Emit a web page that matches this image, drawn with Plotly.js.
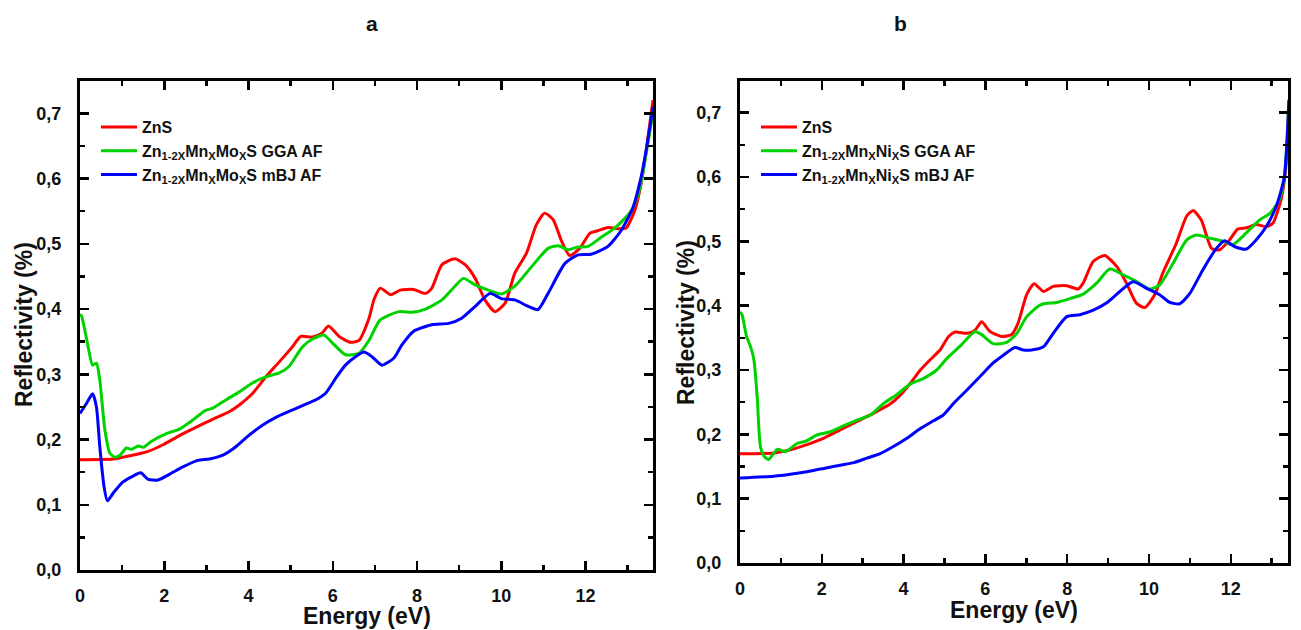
<!DOCTYPE html>
<html>
<head>
<meta charset="utf-8">
<script src="https://cdn.plot.ly/plotly-3.0.1.min.js"></script>
<style>html,body{margin:0;padding:0;background:#fff;}#chart{width:1301px;height:630px;}</style>
</head>
<body>
<div id="chart"></div>
<script>
// ---------- Panel a ----------
const aZnsE = [0,0.79,1.18,1.58,1.97,2.36,2.76,3.15,3.55,3.78,4.10,4.41,4.73,5.04,5.24,5.52,5.74,5.90,6.15,6.42,6.62,6.86,6.98,7.13,7.37,7.60,7.92,8.20,8.35,8.59,8.90,9.14,9.38,9.61,9.85,10.09,10.32,10.60,10.83,11.03,11.23,11.43,11.62,11.86,12.10,12.29,12.53,12.81,12.96,13.16,13.32,13.44,13.6];
const aZnsR = [0.169,0.170,0.175,0.181,0.192,0.206,0.219,0.231,0.243,0.253,0.271,0.296,0.319,0.342,0.358,0.357,0.363,0.374,0.358,0.349,0.352,0.386,0.415,0.432,0.422,0.429,0.430,0.424,0.432,0.468,0.477,0.468,0.447,0.414,0.396,0.409,0.455,0.486,0.529,0.547,0.537,0.504,0.482,0.493,0.516,0.520,0.525,0.523,0.524,0.550,0.593,0.644,0.72];

const aGgaE = [0,0.04,0.16,0.30,0.39,0.47,0.59,0.71,0.83,0.95,1.10,1.22,1.38,1.51,1.69,2.05,2.36,2.68,2.96,3.15,3.47,3.78,4.10,4.41,4.73,4.96,5.28,5.52,5.79,5.99,6.30,6.62,6.86,7.12,7.57,7.88,8.20,8.59,8.90,9.10,9.38,9.69,10.0,10.32,10.72,11.11,11.35,11.58,11.82,12.06,12.37,12.69,13.08,13.28,13.40,13.6];
const aGgaR = [0.392,0.389,0.353,0.314,0.317,0.291,0.215,0.179,0.173,0.176,0.187,0.185,0.190,0.188,0.197,0.209,0.216,0.230,0.244,0.248,0.261,0.273,0.287,0.296,0.302,0.312,0.342,0.354,0.360,0.348,0.330,0.332,0.352,0.383,0.396,0.395,0.400,0.414,0.435,0.447,0.437,0.429,0.423,0.435,0.465,0.493,0.497,0.491,0.495,0.496,0.510,0.524,0.550,0.583,0.624,0.70];

const aMbjE = [0,0.16,0.30,0.39,0.47,0.57,0.65,0.79,1.02,1.26,1.44,1.62,1.85,2.13,2.44,2.80,3.07,3.39,3.70,4.02,4.33,4.65,4.96,5.28,5.60,5.83,6.07,6.30,6.54,6.74,6.93,7.17,7.45,7.64,7.92,8.35,8.75,9.06,9.38,9.73,10.0,10.32,10.64,10.87,11.11,11.51,11.82,12.13,12.53,12.84,13.12,13.32,13.44,13.6];
const aMbjR = [0.240,0.256,0.270,0.250,0.189,0.128,0.106,0.118,0.135,0.144,0.149,0.139,0.138,0.147,0.158,0.168,0.170,0.176,0.189,0.207,0.222,0.234,0.243,0.252,0.261,0.271,0.294,0.314,0.327,0.334,0.327,0.314,0.325,0.345,0.366,0.376,0.378,0.386,0.404,0.424,0.416,0.414,0.404,0.399,0.424,0.470,0.483,0.484,0.496,0.520,0.555,0.603,0.644,0.71];

// ---------- Panel b ----------
const bZnsE = [0,0.83,1.23,1.64,2.05,2.45,2.86,3.27,3.67,3.92,4.16,4.41,4.65,4.89,5.10,5.26,5.55,5.75,5.91,6.11,6.40,6.64,6.80,7.01,7.19,7.42,7.66,7.99,8.27,8.39,8.64,8.92,9.21,9.45,9.69,9.90,10.14,10.34,10.67,10.92,11.08,11.28,11.53,11.73,11.97,12.17,12.38,12.62,12.87,13.03,13.23,13.34,13.42];
const bZnsR = [0.170,0.171,0.176,0.184,0.194,0.207,0.220,0.233,0.247,0.261,0.279,0.300,0.316,0.331,0.352,0.359,0.357,0.362,0.375,0.360,0.352,0.355,0.373,0.417,0.434,0.422,0.430,0.431,0.426,0.435,0.469,0.478,0.461,0.435,0.404,0.397,0.417,0.451,0.497,0.539,0.548,0.533,0.489,0.487,0.502,0.519,0.521,0.526,0.523,0.528,0.565,0.61,0.70];

const bGgaE = [0,0.05,0.16,0.26,0.34,0.42,0.50,0.60,0.70,0.83,0.92,1.11,1.40,1.60,1.88,2.21,2.53,2.86,3.19,3.51,3.84,4.16,4.49,4.81,5.06,5.38,5.75,5.91,6.19,6.52,6.77,7.01,7.29,7.42,7.74,8.07,8.39,8.72,9.04,9.37,9.69,10.02,10.26,10.59,10.92,11.16,11.48,11.81,12.05,12.38,12.70,12.95,13.19,13.31,13.42];
const bGgaR = [0.390,0.386,0.352,0.336,0.316,0.259,0.181,0.165,0.161,0.171,0.177,0.173,0.186,0.189,0.199,0.204,0.213,0.222,0.230,0.248,0.262,0.278,0.287,0.300,0.318,0.337,0.360,0.355,0.341,0.343,0.357,0.383,0.399,0.403,0.405,0.411,0.418,0.435,0.457,0.448,0.438,0.426,0.432,0.466,0.502,0.510,0.505,0.500,0.495,0.513,0.533,0.543,0.565,0.600,0.71];

const bMbjE = [0,0.83,1.23,1.64,2.05,2.45,2.78,3.10,3.43,3.75,4.08,4.41,4.73,4.97,5.22,5.55,5.87,6.19,6.44,6.72,6.93,7.13,7.42,7.66,7.99,8.31,8.64,8.96,9.29,9.61,9.94,10.26,10.51,10.75,11.0,11.32,11.65,11.85,12.09,12.38,12.62,12.87,13.11,13.31,13.42];
const bMbjR = [0.132,0.135,0.138,0.142,0.147,0.152,0.156,0.163,0.170,0.181,0.194,0.209,0.221,0.230,0.248,0.269,0.290,0.311,0.323,0.335,0.331,0.331,0.336,0.357,0.383,0.386,0.393,0.404,0.422,0.437,0.427,0.417,0.405,0.403,0.419,0.456,0.489,0.501,0.492,0.488,0.502,0.523,0.554,0.600,0.72];

const xTickVals = [0,2,4,6,8,10,12];
const yTickVals = [0,0.1,0.2,0.3,0.4,0.5,0.6,0.7];
const panelTitles = ['a','b'];
const namesA = ['ZnS','Zn<sub>1-2X</sub>Mn<sub>X</sub>Mo<sub>X</sub>S GGA AF','Zn<sub>1-2X</sub>Mn<sub>X</sub>Mo<sub>X</sub>S mBJ AF'];
const namesB = ['ZnS','Zn<sub>1-2X</sub>Mn<sub>X</sub>Ni<sub>X</sub>S GGA AF','Zn<sub>1-2X</sub>Mn<sub>X</sub>Ni<sub>X</sub>S mBJ AF'];
const colors = ['rgb(255,0,0)','rgb(0,210,0)','rgb(0,0,255)'];

const W = 1301, H = 630;
const FONT = 'Liberation Sans, Arial, sans-serif';
const px = v => v / W;
const py = v => 1 - v / H;

function tr(x, y, name, color, xa, ya, leg) {
  return {x: x, y: y, name: name, type: 'scatter', mode: 'lines',
    line: {color: color, width: 3, shape: 'spline', smoothing: 0.6},
    xaxis: xa, yaxis: ya, legend: leg};
}

const data = [
  tr(aZnsE, aZnsR, namesA[0], colors[0], 'x', 'y', 'legend'),
  tr(aGgaE, aGgaR, namesA[1], colors[1], 'x', 'y', 'legend'),
  tr(aMbjE, aMbjR, namesA[2], colors[2], 'x', 'y', 'legend'),
  tr(bZnsE, bZnsR, namesB[0], colors[0], 'x2', 'y2', 'legend2'),
  tr(bGgaE, bGgaR, namesB[1], colors[1], 'x2', 'y2', 'legend2'),
  tr(bMbjE, bMbjR, namesB[2], colors[2], 'x2', 'y2', 'legend2')
];

function xAxis(domain, range, anchor) {
  return {domain: domain, range: range, anchor: anchor, tickvals: xTickVals,
    ticks: 'inside', ticklen: 9, tickwidth: 2.5, tickcolor: '#000',
    minor: {dtick: 1, tick0: 0, ticks: 'inside', ticklen: 5, tickwidth: 2.5, tickcolor: '#000', showgrid: false},
    showline: true, linecolor: '#000', linewidth: 3, mirror: 'ticks', showgrid: false, zeroline: false,
    ticklabelstandoff: 7,
    tickfont: {family: FONT, size: 18, color: '#111', weight: 'bold'}, fixedrange: true};
}
function yAxis(domain, anchor) {
  return {domain: domain, range: [0, 0.75], anchor: anchor, tickvals: yTickVals, tickformat: '.1f',
    ticks: 'inside', ticklen: 9, tickwidth: 2.5, tickcolor: '#000',
    minor: {dtick: 0.05, tick0: 0, ticks: 'inside', ticklen: 5, tickwidth: 2.5, tickcolor: '#000', showgrid: false},
    showline: true, linecolor: '#000', linewidth: 3, mirror: 'ticks', showgrid: false, zeroline: false,
    ticklabelstandoff: 12,
    tickfont: {family: FONT, size: 18, color: '#111', weight: 'bold'}, fixedrange: true};
}

function ann(text, x, y, size, angle) {
  return {text: text, x: px(x), y: py(y), xref: 'paper', yref: 'paper', showarrow: false,
    xanchor: 'center', yanchor: 'middle', textangle: angle || 0,
    font: {family: FONT, size: size, color: '#111', weight: 'bold'}};
}

const legFont = {family: FONT, size: 16, color: '#111', weight: 'bold'};
const layout = {
  width: W, height: H,
  margin: {l: 0, r: 0, t: 0, b: 0},
  paper_bgcolor: '#fff', plot_bgcolor: '#fff',
  separators: ', ',
  showlegend: true,
  xaxis: xAxis([px(80), px(653)], [0, 13.6], 'y'),
  yaxis: yAxis([1 - 570 / H, 1 - 80.7 / H], 'x'),
  xaxis2: xAxis([px(740), px(1288)], [0, 13.4], 'y2'),
  yaxis2: yAxis([1 - 563 / H, 1 - 80.5 / H], 'x2'),
  legend: {x: px(96), y: py(110), xanchor: 'left', yanchor: 'top', bgcolor: 'rgba(0,0,0,0)', font: legFont, itemwidth: 36, tracegroupgap: 0},
  legend2: {x: px(756), y: py(110), xanchor: 'left', yanchor: 'top', bgcolor: 'rgba(0,0,0,0)', font: legFont, itemwidth: 36, tracegroupgap: 0},
  annotations: [
    ann(panelTitles[0], 372, 24, 21),
    ann(panelTitles[1], 900, 24, 21),
    ann('Energy (eV)', 367, 616, 23),
    ann('Energy (eV)', 1014, 610, 23),
    ann('Reflectivity (%)', 24, 325, 23, -90),
    ann('Reflectivity (%)', 686, 322, 23, -90)
  ]
};

Plotly.newPlot('chart', data, layout, {staticPlot: true, displayModeBar: false});
</script>
</body>
</html>
